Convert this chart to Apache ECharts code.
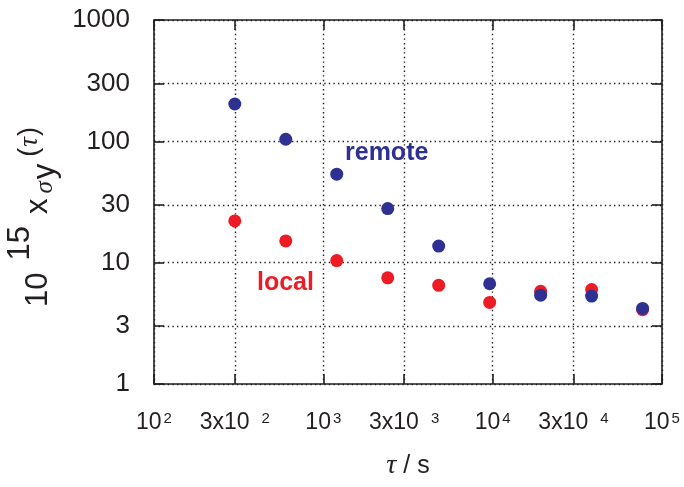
<!DOCTYPE html>
<html>
<head>
<meta charset="utf-8">
<script src="https://cdn.jsdelivr.net/npm/echarts@6/dist/echarts.min.js"></script>
<style>
  html, body { margin: 0; padding: 0; background: #fff; }
  #chart { width: 684px; height: 487px; }
</style>
</head>
<body>
<div id="chart"></div>
<script>
// Averaging time tau in seconds
const tau = [300, 600, 1200, 2400, 4800, 9600, 19200, 38400, 76800];
// Allan deviation x 1e15
const remote = [203, 104, 53.6, 27.9, 13.7, 6.7, 5.4, 5.3, 4.2];
const local = [22.1, 15.1, 10.4, 7.5, 6.5, 4.7, 5.8, 6.0, 4.1];
// Tick positions on both axes
const xTicks = [100, 300, 1000, 3000, 10000, 30000, 100000];
const yTicks = [1, 3, 10, 30, 100, 300, 1000];

const INK = '#231f20';
const BLUE = '#2e3192';
const RED = '#ed1c24';
const SANS = '"Liberation Sans", Arial, sans-serif';
const SERIF = '"Liberation Serif", "DejaVu Serif", serif';

const chart = echarts.init(document.getElementById('chart'), null, { renderer: 'canvas' });

function pairs(xs, ys) {
  return xs.map((x, i) => [x, ys[i]]);
}

function xLabel(v) {
  const e = Math.round(Math.log10(v));
  const m = Math.round(v / Math.pow(10, e));
  return m === 1 ? '{n|10}{s|' + e + '}' : '{n|' + m + 'x10}{g|' + e + '}';
}

const frameLine = { show: true, onZero: false, lineStyle: { color: INK, width: 1.6 } };
const tickStyle = { lineStyle: { color: INK, width: 1.6 } };
const dotted = { show: true, lineStyle: { color: INK, width: 1.4, type: [1.4, 3.2] } };

// rich-text pieces of the vertical axis title, all bottom aligned so padding sets the baseline shift
const P = 12;
function piece(size, family, shiftUp, padL, padR, italic) {
  return {
    fontSize: size, fontFamily: family, fontStyle: italic ? 'italic' : 'normal', color: INK,
    verticalAlign: 'bottom', padding: [0, padR || 0, P + shiftUp, padL || 0]
  };
}

chart.setOption({
  animation: false,
  backgroundColor: '#fff',
  grid: { left: 154, top: 20, right: 22, bottom: 103, containLabel: false, outerBoundsMode: 'none' },
  xAxis: [
    {
      type: 'log', logBase: 10, min: 100, max: 100000, position: 'bottom',
      axisLine: frameLine,
      axisTick: Object.assign({ show: true, inside: true, length: 10, customValues: xTicks }, tickStyle),
      splitLine: dotted,
      axisLabel: {
        customValues: xTicks, margin: 27, color: INK, fontFamily: SANS,
        formatter: xLabel,
        rich: {
          n: { fontSize: 23, fontFamily: SANS, color: INK, verticalAlign: 'bottom', padding: [0, 0, 0, 0] },
          s: { fontSize: 15, fontFamily: SANS, color: INK, verticalAlign: 'bottom', padding: [0, 0, 8, 2] },
          g: { fontSize: 15, fontFamily: SANS, color: INK, verticalAlign: 'bottom', padding: [0, 0, 8, 12] }
        }
      },
      name: '{t|τ}{u| / s}',
      nameLocation: 'middle',
      nameGap: 68,
      nameTextStyle: {
        rich: {
          t: { fontSize: 28, fontFamily: SERIF, fontStyle: 'italic', color: INK },
          u: { fontSize: 25, fontFamily: SANS, color: INK }
        }
      }
    },
    {
      type: 'log', logBase: 10, min: 100, max: 100000, position: 'top',
      axisLine: frameLine,
      axisTick: Object.assign({ show: true, inside: true, length: 10, customValues: xTicks }, tickStyle),
      axisLabel: { show: false },
      splitLine: { show: false }
    }
  ],
  yAxis: [
    {
      type: 'log', logBase: 10, min: 1, max: 1000, position: 'left',
      axisLine: frameLine,
      axisTick: Object.assign({ show: true, inside: true, length: 10, customValues: yTicks }, tickStyle),
      splitLine: dotted,
      axisLabel: {
        customValues: yTicks, margin: 24, fontSize: 26, fontFamily: SANS, color: INK,
        formatter: v => String(Math.round(v))
      },
      name: '{a|10}{b|15}{c|x}{s|σ}{y|y}{p|(}{t|τ}{p|)}',
      nameLocation: 'middle',
      nameRotate: 90,
      nameGap: 85,
      nameTextStyle: {
        padding: [0, 30, 0, 0],
        rich: {
          a: piece(31, SANS, 0),
          b: piece(31, SANS, 18, 12),
          c: piece(31, SANS, 0, 12, 5),
          s: piece(25, SERIF, -4, 0, 2, true),
          y: piece(31, SANS, -7, 0, 7),
          p: piece(27, SANS, 11),
          t: piece(27, SERIF, 11, 1, 1, true)
        }
      }
    },
    {
      type: 'log', logBase: 10, min: 1, max: 1000, position: 'right',
      axisLine: frameLine,
      axisTick: Object.assign({ show: true, inside: true, length: 10, customValues: yTicks }, tickStyle),
      axisLabel: { show: false },
      splitLine: { show: false }
    }
  ],
  series: [
    {
      name: 'local', type: 'scatter', xAxisIndex: 0, yAxisIndex: 0,
      symbol: 'circle', symbolSize: 13,
      itemStyle: { color: RED, opacity: 1 },
      data: pairs(tau, local), z: 3
    },
    {
      name: 'remote', type: 'scatter', xAxisIndex: 0, yAxisIndex: 0,
      symbol: 'circle', symbolSize: 13,
      itemStyle: { color: BLUE, opacity: 1 },
      data: pairs(tau, remote), z: 4
    }
  ],
  graphic: [
    {
      type: 'text', x: 345, y: 153, z: 10,
      style: { text: 'remote', fill: BLUE, font: 'bold 25px ' + SANS, verticalAlign: 'middle', align: 'left' }
    },
    {
      type: 'text', x: 257, y: 283, z: 10,
      style: { text: 'local', fill: RED, font: 'bold 25px ' + SANS, verticalAlign: 'middle', align: 'left' }
    }
  ]
});
</script>
</body>
</html>
